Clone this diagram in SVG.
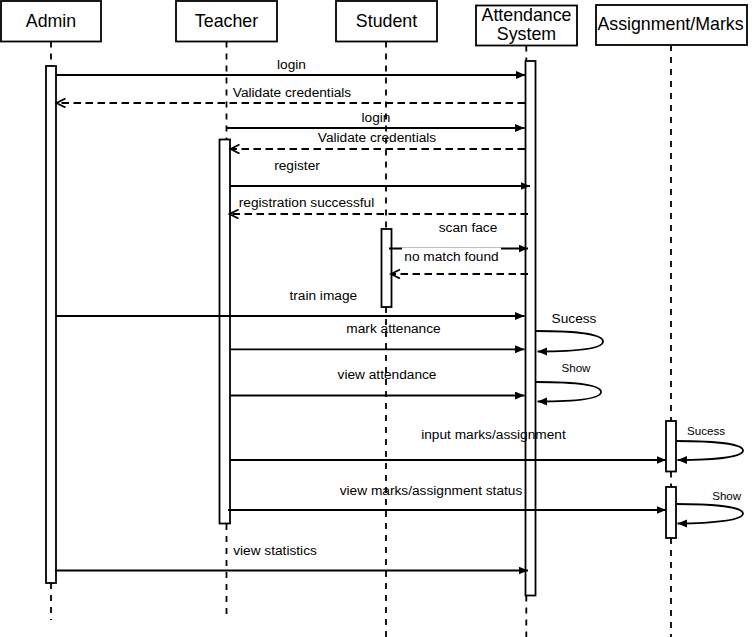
<svg xmlns="http://www.w3.org/2000/svg" width="756" height="637" viewBox="0 0 756 637">
  <style>
    .box { fill: #ffffff; stroke: #000000; stroke-width: 1.8; }
    .act { fill: #ffffff; stroke: #000000; stroke-width: 1.8; }
    .life { stroke: #000000; stroke-width: 1.8; stroke-dasharray: 6 6; fill: none; }
    .msg { stroke: #000000; stroke-width: 1.8; fill: none; marker-end: url(#block); }
    .ret { stroke: #000000; stroke-width: 1.8; fill: none; stroke-dasharray: 7.5 4.5; marker-end: url(#open); }
    .head { font-family: "Liberation Sans", Arial, sans-serif; font-size: 17.8px; fill: #000000; text-anchor: middle; }
    .lbl { font-family: "Liberation Sans", Arial, sans-serif; font-size: 13.7px; fill: #000000; text-anchor: middle; }
    .sm { font-family: "Liberation Sans", Arial, sans-serif; font-size: 11.6px; fill: #000000; text-anchor: middle; }
  </style>
  <defs>
    <marker id="block" markerUnits="userSpaceOnUse" markerWidth="11" markerHeight="9" refX="9.5" refY="4" orient="auto">
      <path d="M0,0 L9.5,4 L0,8 z" fill="#000000"/>
    </marker>
    <marker id="open" markerUnits="userSpaceOnUse" markerWidth="12" markerHeight="12" refX="9.5" refY="5" orient="auto">
      <path d="M0.5,0.5 L9.5,5 L0.5,9.5" fill="none" stroke="#000000" stroke-width="1.8"/>
    </marker>
  </defs>

  <rect width="756" height="637" fill="#ffffff"/>

  <!-- Admin -->
  <g id="admin">
    <rect class="box" x="1" y="1" width="100" height="40.5"/>
    <text class="head" x="51" y="27.3">Admin</text>
    <line class="life" x1="51" y1="41.5" x2="51" y2="66"/>
    <line class="life" x1="51" y1="583" x2="51" y2="620"/>
    <rect class="act" x="46" y="66" width="10" height="517"/>
  </g>

  <!-- Teacher -->
  <g id="teacher">
    <rect class="box" x="176" y="1" width="101" height="40.5"/>
    <text class="head" x="226.5" y="27.3">Teacher</text>
    <line class="life" x1="226.5" y1="41.5" x2="226.5" y2="139"/>
    <line class="life" x1="226.5" y1="524" x2="226.5" y2="620"/>
    <rect class="act" x="219.5" y="139.5" width="10.5" height="384"/>
  </g>

  <!-- Student -->
  <g id="student">
    <rect class="box" x="336" y="1" width="101" height="40.5"/>
    <text class="head" x="386.5" y="27.3">Student</text>
    <line class="life" x1="386" y1="41.5" x2="386" y2="229"/>
    <line class="life" x1="386" y1="307" x2="386" y2="637"/>
    <rect class="act" x="381.5" y="229" width="10" height="78"/>
  </g>

  <!-- Attendance System -->
  <g id="attendance-system">
    <rect class="box" x="476" y="5.5" width="101" height="40"/>
    <text class="head" x="526.5" y="20.5">Attendance</text>
    <text class="head" x="526.5" y="39.5">System</text>
    <line class="life" x1="526.3" y1="45.5" x2="526.3" y2="61"/>
    <line class="life" x1="526.3" y1="595.5" x2="526.3" y2="637"/>
    <rect class="act" x="525.5" y="61" width="10" height="534.5"/>
  </g>

  <!-- Assignment/Marks -->
  <g id="assignment-marks">
    <rect class="box" x="596" y="5" width="151" height="40"/>
    <text class="head" x="670.5" y="30">Assignment/Marks</text>
    <line class="life" x1="671" y1="45" x2="671" y2="421"/>
    <line class="life" x1="671" y1="471.5" x2="671" y2="487"/>
    <line class="life" x1="671" y1="538" x2="671" y2="637"/>
    <rect class="act" x="666" y="421" width="10" height="50.5"/>
    <rect class="act" x="666" y="487" width="10" height="51"/>
  </g>

  <!-- Messages -->
  <g id="connectors">
    <line class="msg" x1="56" y1="75" x2="525.5" y2="75"/>
    <text class="lbl" x="291.5" y="68.5">login</text>

    <line class="ret" x1="525" y1="103" x2="56.5" y2="103"/>
    <text class="lbl" x="292" y="96.7">Validate credentials</text>

    <line class="msg" x1="227" y1="128" x2="524.5" y2="128"/>
    <text class="lbl" x="376" y="121.5">login</text>

    <line class="ret" x1="525" y1="149" x2="230.5" y2="149"/>
    <text class="lbl" x="377" y="142.3">Validate credentials</text>

    <line class="msg" x1="230" y1="186" x2="530" y2="186"/>
    <text class="lbl" x="297" y="170">register</text>

    <line class="ret" x1="528" y1="214" x2="229.5" y2="214"/>
    <text class="lbl" x="306.5" y="207.3">registration successful</text>

    <line class="msg" x1="389" y1="248.5" x2="528" y2="248.5"/>
    <text class="lbl" x="468" y="232">scan face</text>

    <line class="ret" x1="528" y1="274" x2="391" y2="274"/>
    <rect x="402" y="247.5" width="99" height="16" fill="#ffffff"/>
    <text class="lbl" x="451.5" y="260.7">no match found</text>

    <line class="msg" x1="56" y1="316" x2="524.5" y2="316"/>
    <text class="lbl" x="323.3" y="300">train image</text>

    <path class="msg" d="M536,331 C575,331 603,334 603,341.5 C603,349 575,351.5 537.5,351.5"/>
    <text class="lbl" x="574" y="323.3">Sucess</text>

    <line class="msg" x1="230" y1="349.3" x2="524.5" y2="349.3"/>
    <text class="lbl" x="393.5" y="332.5">mark attenance</text>

    <path class="msg" d="M536,382 C575,382 601,385 601,392 C601,399 575,401.5 537.5,401.5"/>
    <text class="sm" x="576" y="372">Show</text>

    <line class="msg" x1="230" y1="395.5" x2="524.5" y2="395.5"/>
    <text class="lbl" x="387" y="378.5">view attendance</text>

    <line class="msg" x1="230" y1="460" x2="666" y2="460"/>
    <text class="lbl" x="493.5" y="439">input marks/assignment</text>

    <path class="msg" d="M676,441 C715,441 743,444 743,450.5 C743,457 715,460 677.5,460"/>
    <text class="sm" x="706" y="434.8">Sucess</text>

    <line class="msg" x1="228" y1="510" x2="666" y2="510"/>
    <text class="lbl" x="431" y="494.5">view marks/assignment status</text>

    <path class="msg" d="M676,504 C715,504 743,507 743,513.5 C743,520 715,523.5 677.5,523.5"/>
    <text class="sm" x="726.7" y="500">Show</text>

    <line class="msg" x1="55" y1="570.5" x2="528" y2="570.5"/>
    <text class="lbl" x="275" y="555">view statistics</text>
  </g>
</svg>
